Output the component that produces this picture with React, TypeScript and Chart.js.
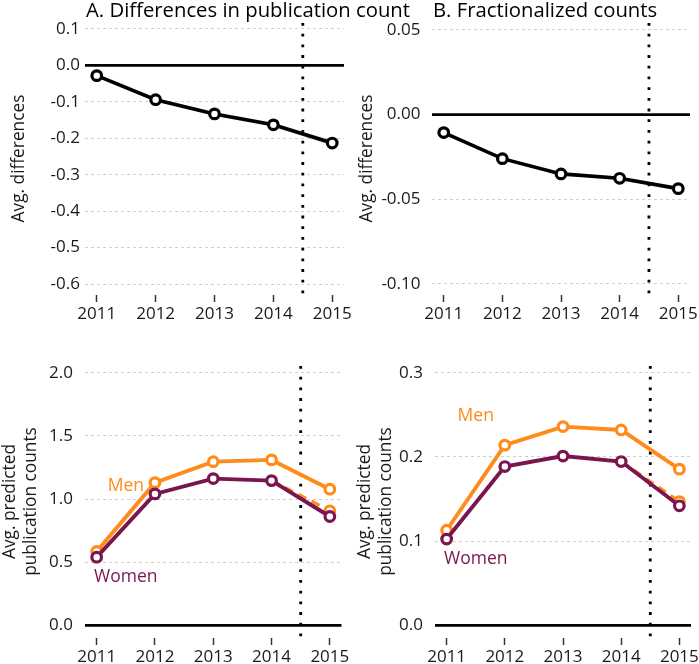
import React, { useEffect, useRef } from 'react';
import { Chart, registerables } from 'chart.js';

Chart.register(...registerables);
Chart.defaults.font.family = '"Open Sans", "Noto Sans", sans-serif';
Chart.defaults.color = '#1a1a1a';

// ---------- data ----------
const years = [2011, 2012, 2013, 2014, 2015];
const cutoffYear = 2014.5;
const zeroValue = 0;

// Panel A: differences in publication count
const diffCount = [-0.028, -0.094, -0.133, -0.163, -0.213];
const diffCountHi = [-0.025, -0.090, -0.128, -0.157, -0.205];
const diffCountLo = [-0.031, -0.098, -0.138, -0.169, -0.221];
const ticksA = [-0.6, -0.5, -0.4, -0.3, -0.2, -0.1, 0.0, 0.1];

// Panel B: fractionalized counts differences
const diffFrac = [-0.0106, -0.026, -0.035, -0.0376, -0.0437];
const diffFracHi = [-0.0100, -0.0252, -0.0340, -0.0365, -0.0425];
const diffFracLo = [-0.0112, -0.0268, -0.0360, -0.0387, -0.0449];
const ticksB = [-0.10, -0.05, 0.0, 0.05];

// Panel C: predicted publication counts
const menCount = [0.585, 1.13, 1.296, 1.31, 1.078];
const womenCount = [0.54, 1.041, 1.162, 1.146, 0.862];
const cfCount = [null, null, null, 1.146, 0.907];
const ticksC = [0.0, 0.5, 1.0, 1.5, 2.0];

// Panel D: predicted fractionalized counts
const menFrac = [0.113, 0.214, 0.236, 0.232, 0.1855];
const womenFrac = [0.1025, 0.1886, 0.201, 0.1945, 0.142];
const cfFrac = [null, null, null, 0.1945, 0.147];
const ticksD = [0.0, 0.1, 0.2, 0.3];

// series name labels (anchored in data space)
const seriesNames = ['Men', 'Women'];
const labelAnchorsC = [[2011.5, 1.10], [2011.5, 0.387]];
const labelAnchorsD = [[2011.5, 0.2487], [2011.5, 0.0791]];

const titleA = 'A. Differences in publication count';
const titleB = 'B. Fractionalized counts';
const yTitleDiff = 'Avg. differences';
const yTitlePred = ['Avg. predicted', 'publication counts'];

// ---------- styles ----------
const ORANGE = '#FF8C1A';
const PURPLE = '#7A154E';
const BLACK = '#000000';

const pts = (arr: (number | null)[]) => years.map((x, i) => ({ x, y: arr[i] }));

const lineDs = (label: string, arr: (number | null)[], color: string, width: number, extra: any = {}) => ({
  label,
  data: pts(arr),
  borderColor: color,
  borderWidth: width,
  pointRadius: 4.8,
  pointBorderWidth: 3.2,
  pointBackgroundColor: '#ffffff',
  pointBorderColor: color,
  tension: 0,
  spanGaps: false,
  ...extra,
});

const ribbonDs = (arr: number[], fill: any) => ({
  label: 'ribbon',
  data: pts(arr),
  borderWidth: 0,
  borderColor: 'rgba(0,0,0,0)',
  backgroundColor: 'rgba(150,150,150,0.35)',
  pointRadius: 0,
  fill,
});

const refPlugin = {
  id: 'refPlugin',
  beforeDatasetsDraw(chart: any) {
    const { ctx, chartArea: a, scales } = chart;
    const x = scales.x, y = scales.y;
    ctx.save();
    ctx.strokeStyle = BLACK;
    const y0 = y.getPixelForValue(zeroValue);
    ctx.lineWidth = 2.8;
    ctx.setLineDash([]);
    ctx.beginPath();
    ctx.moveTo(a.left, y0);
    ctx.lineTo(a.right, y0);
    ctx.stroke();
    const xc = x.getPixelForValue(cutoffYear);
    ctx.lineWidth = 2.8;
    ctx.setLineDash([2.8, 7.9]);
    ctx.beginPath();
    ctx.moveTo(xc, a.top + 1);
    ctx.lineTo(xc, a.bottom);
    ctx.stroke();
    ctx.restore();
  },
  afterDraw(chart: any, _args: any, opts: any) {
    const { ctx, chartArea: a, scales } = chart;
    ctx.save();
    if (opts.title) {
      ctx.font = '20.3px "Open Sans"';
      ctx.fillStyle = '#000';
      ctx.textAlign = 'left';
      ctx.textBaseline = 'alphabetic';
      ctx.fillText(opts.title, a.left + 1, 17);
    }
    if (opts.labels) {
      ctx.font = '17.5px "Open Sans"';
      ctx.textAlign = 'center';
      ctx.textBaseline = 'middle';
      opts.labels.forEach((l: any) => {
        ctx.fillStyle = l.color;
        ctx.fillText(l.text, scales.x.getPixelForValue(l.x), scales.y.getPixelForValue(l.y));
      });
    }
    ctx.restore();
  },
};

type Spec = {
  w: number; h: number;
  area: { l: number; r: number; t: number; b: number };
  datasets: any[];
  yMin: number; yMax: number; yTicks: number[]; decimals: number;
  yTitle: string | string[]; yTitlePad: number; yTitleLH: number;
  tickPad: number;
  title?: string;
  labels?: any[];
};

const TICK_SIZE = 17;
const AXIS_TITLE_SIZE = 17.3;

function makeConfig(s: Spec): any {
  return {
    type: 'line',
    data: { datasets: s.datasets },
    plugins: [refPlugin],
    options: {
      animation: false,
      responsive: false,
      devicePixelRatio: 1,
      layout: { padding: { left: 0, top: s.area.t, right: s.w - s.area.r, bottom: 0 } },
      plugins: {
        legend: { display: false },
        tooltip: { enabled: false },
        refPlugin: { title: s.title, labels: s.labels },
      },
      scales: {
        x: {
          type: 'linear',
          min: 2010.8,
          max: 2015.2,
          bounds: 'data',
          afterBuildTicks: (sc: any) => { sc.ticks = years.map((v) => ({ value: v })); },
          afterFit: (sc: any) => { sc.height = s.h - s.area.b; sc.paddingLeft = 0; sc.paddingRight = 0; },
          ticks: { callback: (v: any) => String(v), padding: 1.5, font: { size: TICK_SIZE }, color: '#1a1a1a', maxRotation: 0, autoSkip: false },
          grid: { drawOnChartArea: false, drawTicks: true, tickLength: 7, tickColor: '#333', tickWidth: 1.5 },
          border: { display: false },
        },
        y: {
          type: 'linear',
          min: s.yMin,
          max: s.yMax,
          bounds: 'data',
          afterBuildTicks: (sc: any) => { sc.ticks = s.yTicks.map((v) => ({ value: v })); },
          afterFit: (sc: any) => { sc.width = s.area.l; sc.paddingTop = 0; sc.paddingBottom = 0; },
          ticks: { callback: (v: any) => Number(v).toFixed(s.decimals), padding: s.tickPad, font: { size: TICK_SIZE }, color: '#1a1a1a' },
          grid: { color: '#d0d0d0', lineWidth: 1, drawTicks: false },
          border: { display: false, dash: [3, 3] },
          title: {
            display: true,
            text: s.yTitle,
            font: { size: AXIS_TITLE_SIZE, lineHeight: s.yTitleLH },
            color: '#1a1a1a',
            padding: { top: s.yTitlePad, bottom: 0 },
          },
        },
      },
    },
  };
}

const specA: Spec = {
  w: 420, h: 332, area: { l: 85, r: 344, t: 22, b: 295 },
  datasets: [
    lineDs('diff', diffCount, BLACK, 3.6),
    ribbonDs(diffCountHi, '+1'),
    ribbonDs(diffCountLo, false),
  ],
  yMin: -0.630, yMax: 0.1192, yTicks: ticksA, decimals: 1,
  yTitle: yTitleDiff, yTitlePad: 8.6, yTitleLH: 1.2, tickPad: 5, title: titleA,
};

const specB: Spec = {
  w: 349, h: 332, area: { l: 82, r: 340, t: 22, b: 295 },
  datasets: [
    lineDs('diff', diffFrac, BLACK, 3.6),
    ribbonDs(diffFracHi, '+1'),
    ribbonDs(diffFracLo, false),
  ],
  yMin: -0.1065, yMax: 0.0547, yTicks: ticksB, decimals: 2,
  yTitle: yTitleDiff, yTitlePad: 6.3, yTitleLH: 1.2, tickPad: 11.5, title: titleB,
};

const specC: Spec = {
  w: 350, h: 332, area: { l: 85, r: 341.5, t: 33, b: 306 },
  datasets: [
    lineDs(seriesNames[1], womenCount, PURPLE, 3.9),
    lineDs('counterfactual', cfCount, ORANGE, 3.4, { borderDash: [9, 6], pointRadius: [0, 0, 0, 0, 4.8] }),
    lineDs(seriesNames[0], menCount, ORANGE, 3.9),
  ],
  yMin: -0.0996, yMax: 2.061, yTicks: ticksC, decimals: 1,
  yTitle: yTitlePred, yTitlePad: -1, yTitleLH: 1.25, tickPad: 12,
  labels: [
    { text: seriesNames[0], x: labelAnchorsC[0][0], y: labelAnchorsC[0][1], color: ORANGE },
    { text: seriesNames[1], x: labelAnchorsC[1][0], y: labelAnchorsC[1][1], color: PURPLE },
  ],
};

const specD: Spec = {
  w: 349, h: 332, area: { l: 85, r: 341, t: 33, b: 306 },
  datasets: [
    lineDs(seriesNames[1], womenFrac, PURPLE, 3.9),
    lineDs('counterfactual', cfFrac, ORANGE, 3.4, { borderDash: [9, 6], pointRadius: [0, 0, 0, 0, 4.8] }),
    lineDs(seriesNames[0], menFrac, ORANGE, 3.9),
  ],
  yMin: -0.0149, yMax: 0.3091, yTicks: ticksD, decimals: 1,
  yTitle: yTitlePred, yTitlePad: 4, yTitleLH: 1.25, tickPad: 12,
  labels: [
    { text: seriesNames[0], x: labelAnchorsD[0][0], y: labelAnchorsD[0][1], color: ORANGE },
    { text: seriesNames[1], x: labelAnchorsD[1][0], y: labelAnchorsD[1][1], color: PURPLE },
  ],
};

function Panel({ spec, left, top }: { spec: Spec; left: number; top: number }) {
  const ref = useRef<HTMLCanvasElement>(null);
  useEffect(() => {
    const chart = new Chart(ref.current as HTMLCanvasElement, makeConfig(spec));
    return () => chart.destroy();
  }, []);
  return (
    <canvas
      ref={ref}
      width={spec.w}
      height={spec.h}
      style={{ position: 'absolute', left, top, width: spec.w, height: spec.h }}
    />
  );
}

export default function App() {
  return (
    <div style={{ position: 'absolute', left: 0, top: 0, width: 699, height: 664, overflow: 'hidden', background: '#ffffff' }}>
      <Panel spec={specA} left={0} top={0} />
      <Panel spec={specB} left={350} top={0} />
      <Panel spec={specC} left={0} top={332} />
      <Panel spec={specD} left={350} top={332} />
    </div>
  );
}
